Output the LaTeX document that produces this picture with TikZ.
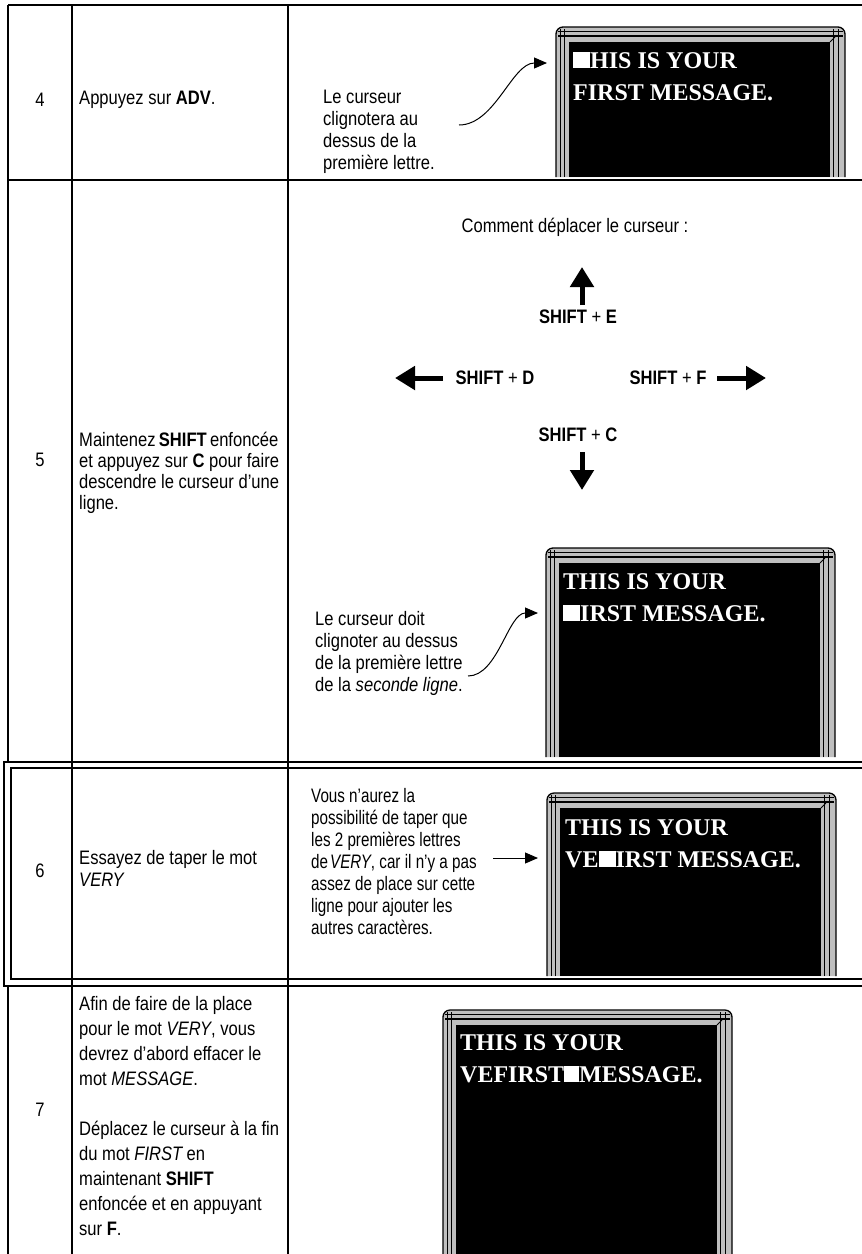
\documentclass[tikz,border=0pt]{standalone}
\usepackage{fontspec}
\setmainfont{Liberation Sans}[FakeStretch=0.85]
\newfontfamily\narrowsans{Liberation Sans}[FakeStretch=0.78]
\newfontfamily\monfont{Liberation Serif}
\usetikzlibrary{arrows.meta}
\definecolor{framegray}{gray}{0.75}
\tikzset{
  tabline/.style={line width=1.5pt},
  txt/.style={inner sep=0pt, anchor=north west, align=left, font=\fontsize{19.5}{22}\selectfont},
  num/.style={inner sep=0pt, font=\fontsize{19.5}{22}\selectfont},
  lbl/.style={inner sep=0pt, font=\fontsize{19.5}{22}\selectfont},
  montxt/.style={inner sep=0pt, anchor=base west, text=white, font=\monfont\bfseries\fontsize{24}{32}\selectfont},
  thinarrow/.style={line width=1pt, -{Triangle[length=13pt,width=11pt]}},
  bigarrow/.style={line width=5pt, -{Triangle[length=20pt,width=23pt]}},
}
\newcommand\drawmonitor[3]{%
  \path[fill=framegray, draw=black, line width=1.3pt, rounded corners=7pt]
    (#1,#3) -- (#1,#2) -- (#1+289,#2) -- (#1+289,#3);
  \draw[line width=1.1pt]
    (#1+4.7,#3) -- (#1+4.7,#2+2) (#1+8.5,#3) -- (#1+8.5,#2+2)
    (#1+277.5,#3) -- (#1+277.5,#2+2) (#1+282.5,#3) -- (#1+282.5,#2+2)
    (#1+2,#2+4.7) -- (#1+287,#2+4.7) (#1+2,#2+9) -- (#1+287,#2+9);
  \fill[black] (#1+12.5,#2+15) rectangle (#1+274,#3);
  \draw[line width=0.9pt] (#1+274,#2+15) -- (#1+279,#2+10);
}
\newcommand\cur[1]{\rule{#1}{16pt}}
\begin{document}
\begin{tikzpicture}[x=1pt,y=-1pt]
\useasboundingbox (0,0) rectangle (862,1254);

% monitors
\drawmonitor{556}{27}{177}
\drawmonitor{546}{548}{757}
\drawmonitor{547}{793}{976}
\drawmonitor{443}{1010}{1254}

% table lines
\draw[tabline] (8,5) -- (862,5);
\draw[tabline] (8,5) -- (8,762);
\draw[tabline] (8,180) -- (862,180);
\draw[tabline] (72,5) -- (72,1254);
\draw[tabline] (288,5) -- (288,1254);
\draw[tabline] (862,762) -- (4,762) -- (4,986) -- (862,986);
\draw[tabline] (862,768) -- (11,768) -- (11,979) -- (862,979);
\draw[tabline] (8,986) -- (8,1254);

% row 4
\node[num] (n4) at (40,100) {4};
\node[lbl, anchor=west] (s4) at (79,100) {Appuyez sur \textbf{ADV}.};
\node[txt] (c4) at (323,90) {Le curseur\\clignotera au\\dessus de la\\première lettre.};
\node[montxt] (m4a) at (573,68) {\cur{17pt}HIS IS YOUR};
\node[montxt] (m4b) at (573,100) {FIRST MESSAGE.};
\coordinate (a4s) at (459,125);
\coordinate (a4e) at (547,63);
\draw[thinarrow] (a4s) .. controls (495,125) and (512,63) .. (a4e);

% row 5
\node[num] (n5) at (40,460) {5};
\node[txt, font=\fontsize{19.5}{21}\selectfont] (s5) at (79,432) {Maintenez\,\textbf{SHIFT}\,enfoncée\\et appuyez sur \textbf{C} pour faire\\descendre le curseur d’une\\ligne.};
\node[lbl] (how) at (575,227) {Comment déplacer le curseur :};
\node[lbl] (ke) at (578,317) {\textbf{SHIFT} + \textbf{E}};
\node[lbl] (kd) at (495,378) {\textbf{SHIFT} + \textbf{D}};
\node[lbl] (kf) at (668,378) {\textbf{SHIFT} + \textbf{F}};
\node[lbl] (kc) at (578,435) {\textbf{SHIFT} + \textbf{C}};
\coordinate (upS) at (582,305);
\coordinate (upT) at (582,267);
\coordinate (lfS) at (443,378);
\coordinate (lfT) at (395,378);
\coordinate (rtS) at (717,378);
\coordinate (rtT) at (766,378);
\coordinate (dnS) at (582,452);
\coordinate (dnT) at (582,490);
\draw[bigarrow] (upS) -- (upT);
\draw[bigarrow] (lfS) -- (lfT);
\draw[bigarrow] (rtS) -- (rtT);
\draw[bigarrow] (dnS) -- (dnT);
\node[txt] (c5) at (315,611) {Le curseur doit\\clignoter au dessus\\de la première lettre\\de la \textit{seconde ligne}.};
\node[montxt] (m5a) at (563,589) {THIS IS YOUR};
\node[montxt] (m5b) at (563,621) {\cur{17pt}IRST MESSAGE.};
\coordinate (a5s) at (468,676);
\coordinate (a5e) at (538,613);
\draw[thinarrow] (a5s) .. controls (498,676) and (508,613) .. (a5e);

% row 6
\node[num] (n6) at (40,871) {6};
\node[txt] (s6) at (79,850) {Essayez de taper le mot\\\textit{VERY}};
\node[txt, font=\narrowsans\fontsize{19.5}{22}\selectfont] (c6) at (311,788) {Vous n’aurez la\\possibilité de taper que\\les 2 premières lettres\\de\hspace{2pt}\textit{VERY}, car il n’y a pas\\assez de place sur cette\\ligne pour ajouter les\\autres caractères.};
\node[montxt] (m6a) at (565,835) {THIS IS YOUR};
\node[montxt] (m6b) at (565,867) {VE\cur{17pt}IRST MESSAGE.};
\coordinate (a6s) at (493,858);
\coordinate (a6e) at (538,858);
\draw[thinarrow] (a6s) -- (a6e);

% row 7
\node[num] (n7) at (40,1110) {7};
\node[txt, font=\fontsize{19.5}{25}\selectfont] (s7) at (79,996) {Afin de faire de la place\\pour le mot \textit{VERY}, vous\\devrez d’abord effacer le\\mot \textit{MESSAGE}.\\[25pt]Déplacez le curseur à la fin\\du mot \textit{FIRST}\,en\\maintenant \textbf{SHIFT}\\enfoncée et en appuyant\\sur \textbf{F}.};
\node[montxt] (m7a) at (460,1050) {THIS IS YOUR};
\node[montxt] (m7b) at (460,1082) {VEFIRST\cur{15pt}MESSAGE.};
\end{tikzpicture}
\end{document}
